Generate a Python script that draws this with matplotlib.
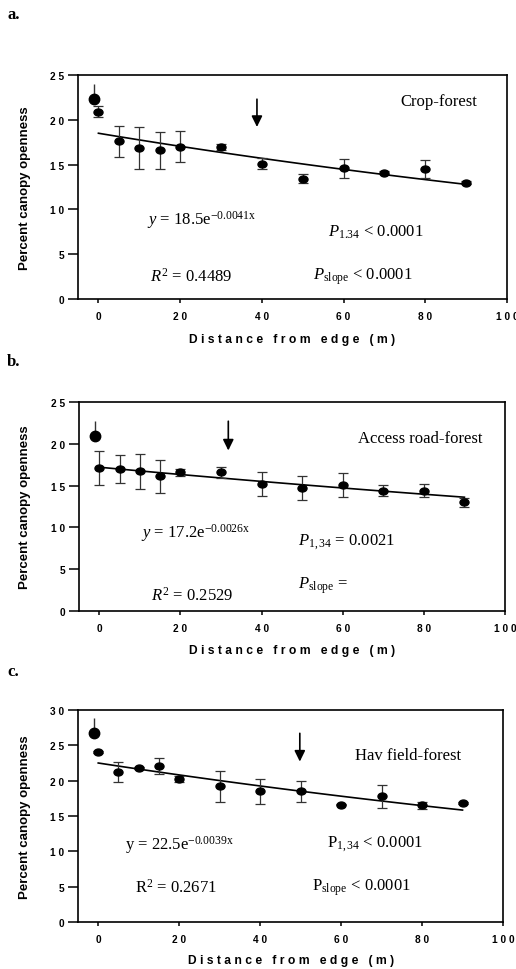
import numpy as np
import matplotlib
matplotlib.use('Agg')
import matplotlib.pyplot as plt
from matplotlib.markers import MarkerStyle
from matplotlib.transforms import Affine2D

plt.rcParams['font.family'] = 'Liberation Sans'
plt.rcParams['mathtext.fontset'] = 'custom'
plt.rcParams['mathtext.rm'] = 'Liberation Serif'
plt.rcParams['mathtext.it'] = 'Liberation Serif:italic'

dist = [0, 5, 10, 15, 20, 30, 40, 50, 60, 70, 80, 90]
edge_x = -1
x_ticks = [0, 20, 40, 60, 80, 100]

crop_y = [20.9, 17.6, 16.9, 16.6, 17.0, 17.0, 15.1, 13.4, 14.6, 14.1, 14.5, 13.0]
crop_err = [0.6, 1.75, 2.35, 2.05, 1.7, 0.35, 0.6, 0.5, 1.05, 0.2, 1.0, 0.2]
crop_edge, crop_edge_up = 22.3, 1.7
crop_fit = (18.5, 0.0041)

road_y = [17.1, 17.0, 16.7, 16.1, 16.6, 16.6, 15.2, 14.7, 15.1, 14.4, 14.4, 13.0]
road_err = [2.05, 1.65, 2.05, 2.0, 0.4, 0.65, 1.4, 1.4, 1.45, 0.65, 0.75, 0.5]
road_edge, road_edge_up = 20.9, 1.8
road_fit = (17.2, 0.0026)

hay_y = [24.1, 21.2, 21.8, 22.1, 20.2, 19.2, 18.5, 18.5, 16.6, 17.8, 16.5, 16.9]
hay_err = [0.15, 1.4, 0.2, 1.1, 0.45, 2.2, 1.8, 1.5, 0.1, 1.65, 0.55, 0.15]
hay_edge, hay_edge_up = 26.7, 2.2
hay_fit = (22.5, 0.0039)


def spaced(s):
  return ' '.join(s)


def draw_panel(ax, y, err, edge_y, edge_up, fit, ymax, ystep, arrow, texts):
  dot = MarkerStyle('o', transform=Affine2D().scale(1.3, 1.0))
  xs = np.linspace(0, 90, 100)
  ax.plot(xs, fit[0] * np.exp(-fit[1] * xs), color='k', lw=1.2, zorder=2)
  ax.errorbar(dist, y, yerr=err, fmt='none', ecolor='#333333', elinewidth=0.9,
              capsize=3.5, capthick=0.9, zorder=3)
  ax.plot(dist, y, linestyle='none', marker=dot, ms=5, color='k', zorder=4)
  ax.errorbar([edge_x], [edge_y], yerr=[[0], [edge_up]], fmt='o', ms=7.5,
              color='k', ecolor='#333333', elinewidth=1.0, capsize=0, zorder=4)
  ax.annotate('', xy=(arrow[0], arrow[2]), xytext=(arrow[0], arrow[1]),
              arrowprops=dict(arrowstyle='-|>,head_width=0.32,head_length=0.65',
                              lw=1.2, color='k', shrinkA=0, shrinkB=0))
  for tx, ty, s in texts:
    ha = 'center' if s.endswith('forest') else 'left'
    ax.text(tx, ty, s, ha=ha, va='center', fontsize=12, family='Liberation Serif')
  ax.set_xlim(-5, 100)
  ax.set_ylim(0, ymax)
  yt = list(range(0, ymax + 1, ystep))
  ax.set_yticks(yt)
  ax.set_yticklabels([spaced(str(v)) for v in yt], fontsize=7.3, fontweight='bold')
  ax.set_xticks(x_ticks)
  ax.set_xticklabels([spaced(str(v)) for v in x_ticks], fontsize=7.3, fontweight='bold')
  ax.tick_params(axis='y', direction='out', length=7, width=1.1, pad=3)
  ax.tick_params(axis='x', direction='out', length=3, width=1.1, pad=5.5)
  for sp in ax.spines.values():
    sp.set_linewidth(1.2)


fig = plt.figure(figsize=(5.16, 9.70), dpi=100)
W, H = 516.0, 970.0

boxes = [(78, 76, 507, 300), (79, 403, 505, 612), (78, 711, 503, 923)]
axes = []
for l, t, r, b in boxes:
  axes.append(fig.add_axes([l / W, 1 - b / H, (r - l) / W, (b - t) / H]))

draw_panel(axes[0], crop_y, crop_err, crop_edge, crop_edge_up, crop_fit, 25, 5,
           (38.8, 22.3, 19.2),
           [(83.2, 22.1, 'Crop-forest'),
            (12.0, 8.9, r'$\mathit{y}$ = 18.5e$^{\mathrm{-0.0041x}}$'),
            (56.2, 7.5, r'$\mathit{P}_{\mathrm{1.34}}$ < 0.0001'),
            (12.6, 2.6, r'$\mathit{R}^{2}$ = 0.4489'),
            (52.4, 2.6, r'$\mathit{P}_{\mathrm{slope}}$ < 0.0001')])

draw_panel(axes[1], road_y, road_err, road_edge, road_edge_up, road_fit, 25, 5,
           (31.8, 22.7, 19.2),
           [(79.0, 20.7, 'Access road-forest'),
            (10.3, 9.4, r'$\mathit{y}$ = 17.2e$^{\mathrm{-0.0026x}}$'),
            (49.1, 8.4, r'$\mathit{P}_{\mathrm{1,34}}$ = 0.0021'),
            (49.1, 3.1, r'$\mathit{P}_{\mathrm{slope}}$ ='),
            (12.7, 1.9, r'$\mathit{R}^{2}$ = 0.2529')])

draw_panel(axes[2], hay_y, hay_err, hay_edge, hay_edge_up, hay_fit, 30, 5,
           (49.8, 26.7, 22.7),
           [(76.6, 23.7, 'Hav field-forest'),
            (6.7, 11.1, r'y = 22.5e$^{\mathrm{-0.0039x}}$'),
            (56.4, 11.1, r'P$_{\mathrm{1,34}}$ < 0.0001'),
            (9.2, 5.0, r'R$^{2}$ = 0.2671'),
            (52.8, 5.0, r'P$_{\mathrm{slope}}$ < 0.0001')])

for (l, t, r, b), lab, ly in zip(boxes, ['a.', 'b.', 'c.'], [15, 362, 672]):
  fig.text(7 / W, 1 - ly / H, lab, fontsize=12, fontweight='bold',
           family='Liberation Serif', ha='left', va='center')
  fig.text(25 / W, 1 - (t + b) / 2 / H, 'Percent canopy openness', rotation=90,
           fontsize=9.5, fontweight='bold', ha='center', va='center')

for xl, yl in [(292, 340), (292, 651), (291, 961)]:
  fig.text(xl / W, 1 - yl / H, spaced('Distance from edge (m)'), fontsize=8.7,
           fontweight='bold', ha='center', va='center')

fig.savefig('out.png', dpi=100)
